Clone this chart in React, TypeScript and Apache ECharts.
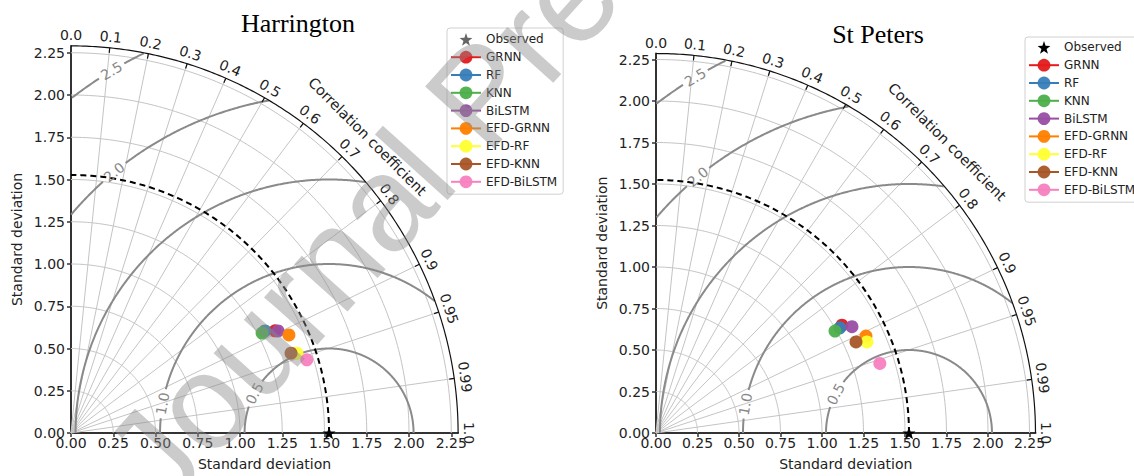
import { useEffect, useRef } from 'react';
import * as echarts from 'echarts';

// ---------------- data ----------------
const titles = ['Harrington', 'St Peters'];
const modelNames = ['GRNN', 'RF', 'KNN', 'BiLSTM', 'EFD-GRNN', 'EFD-RF', 'EFD-KNN', 'EFD-BiLSTM'];
const modelColors = ['#e41a1c', '#377eb8', '#4daf4a', '#984ea3', '#ff7f00', '#ffff33', '#a65628', '#f781bf'];

const harringtonStd = [1.350, 1.297, 1.276, 1.366, 1.414, 1.418, 1.385, 1.461];
const harringtonCorr = [0.894, 0.885, 0.886, 0.897, 0.912, 0.943, 0.940, 0.955];
const stPetersStd = [1.295, 1.276, 1.241, 1.343, 1.393, 1.384, 1.324, 1.412];
const stPetersCorr = [0.865, 0.868, 0.869, 0.879, 0.908, 0.918, 0.910, 0.955];
const observedStd = [1.527, 1.524];

const stdTicks = [0, 0.25, 0.5, 0.75, 1.0, 1.25, 1.5, 1.75, 2.0, 2.25];
const corrTicks = [0, 0.1, 0.2, 0.3, 0.4, 0.5, 0.6, 0.7, 0.8, 0.9, 0.95, 0.99, 1.0];
const corrTickLabels = ['0.0', '0.1', '0.2', '0.3', '0.4', '0.5', '0.6', '0.7', '0.8', '0.9', '0.95', '0.99', '1.0'];
const rmsLevels = [0.5, 1.0, 1.5, 2.0, 2.5];
const rmsLabels = ['0.5', '1.0', '1.5', '2.0', '2.5'];
const watermarkText = 'Journal Pre-proof';

// ---------------- layout ----------------
const layouts = [
  { originX: 71, originY: 433, scale: 169, legendLeft: 447, legendTop: 28, legendPad: [5, 6, 6, 3], titleCenter: 298, titleTop: 10, starLegend: '#666666' },
  { originX: 656, originY: 433, scale: 166, legendLeft: 1025, legendTop: 37, legendPad: [4, 6, 6, 3], titleCenter: 878, titleTop: 21, starLegend: '#000000' },
];
const rmsLabelAngle = [152, 170, null, 129.5, 121];
const FONT = 'DejaVu Sans';
const STAR = 'path://M0,-10 L2.35,-3.24 L9.51,-3.09 L3.8,1.24 L5.88,8.09 L0,4 L-5.88,8.09 L-3.8,1.24 L-9.51,-3.09 L-2.35,-3.24 Z';

const toXY = (r: number, c: number) => {
  const t = Math.acos(c);
  return [r * Math.cos(t), r * Math.sin(t)];
};

function arcPts(r: number, t0: number, t1: number, n = 120) {
  const pts: number[][] = [];
  for (let k = 0; k <= n; k++) {
    const t = t0 + ((t1 - t0) * k) / n;
    pts.push([r * Math.cos(t), r * Math.sin(t)]);
  }
  return pts;
}

function linesSeries(i: number, polylines: number[][][], style: any, z: number) {
  return {
    type: 'lines',
    coordinateSystem: 'cartesian2d',
    xAxisIndex: i,
    yAxisIndex: i,
    polyline: true,
    silent: true,
    clip: false,
    z,
    data: polylines.map((p) => ({ coords: p })),
    lineStyle: { opacity: 1, curveness: 0, ...style },
    effect: { show: false },
  };
}

function buildOption() {
  const grids: any[] = [];
  const xAxes: any[] = [];
  const yAxes: any[] = [];
  const series: any[] = [];
  const legends: any[] = [];
  const titleOpts: any[] = [];
  const stds = [harringtonStd, stPetersStd];
  const corrs = [harringtonCorr, stPetersCorr];

  layouts.forEach((L, i) => {
    const obs = observedStd[i];
    const rmax = 1.5 * obs;
    const size = rmax * L.scale;
    grids.push({ left: L.originX, top: L.originY - size, width: size, height: size, outerBoundsMode: 'none', containLabel: false });

    const axis = (isX: boolean) => ({
      type: 'value',
      gridIndex: i,
      min: 0,
      max: rmax,
      axisLine: { show: true, onZero: false, lineStyle: { color: '#333', width: 2 } },
      axisTick: { show: true, inside: false, length: 4, customValues: stdTicks, lineStyle: { color: '#333', width: 1.5 } },
      axisLabel: {
        show: true,
        customValues: stdTicks,
        formatter: (v: number) => v.toFixed(2),
        fontFamily: FONT,
        fontSize: 14,
        color: '#222',
        margin: isX ? 3 : 6,
      },
      splitLine: { show: false },
      name: 'Standard deviation',
      nameLocation: 'middle',
      nameGap: isX ? 24 : 47,
      nameTextStyle: { fontFamily: FONT, fontSize: 14, color: '#222' },
    });
    xAxes.push(axis(true));
    yAxes.push(axis(false));

    // std grid arcs
    const stdArcs = stdTicks.filter((r) => r > 0).map((r) => arcPts(r, 0, Math.PI / 2));
    series.push(linesSeries(i, stdArcs, { color: '#c4c4c4', width: 1 }, 1));

    // correlation radial lines
    const radial = corrTicks
      .filter((c) => c > 0 && c < 1)
      .map((c) => [[0, 0], toXY(rmax, c)]);
    series.push(linesSeries(i, radial, { color: '#c4c4c4', width: 1 }, 1));

    // RMS contours (clipped to the quarter disc, gaps at labels)
    const contourPieces: number[][][] = [];
    rmsLevels.forEach((R, k) => {
      const la = rmsLabelAngle[k];
      const gap = la == null ? 0 : (0.085 / R) * (180 / Math.PI);
      let cur: number[][] = [];
      for (let a = 0; a <= 180.0001; a += 0.25) {
        const phi = (a * Math.PI) / 180;
        const x = obs + R * Math.cos(phi);
        const y = R * Math.sin(phi);
        const ok = x >= 0 && x * x + y * y <= rmax * rmax && !(la != null && Math.abs(a - la) < gap);
        if (ok) cur.push([x, y]);
        else if (cur.length) {
          if (cur.length > 1) contourPieces.push(cur);
          cur = [];
        }
      }
      if (cur.length > 1) contourPieces.push(cur);
    });
    series.push(linesSeries(i, contourPieces, { color: '#8a8a8a', width: 2 }, 2));

    // outer arc + correlation ticks
    const tickLen = 5 / L.scale;
    const outer = [arcPts(rmax, 0, Math.PI / 2, 200)];
    corrTicks.forEach((c) => {
      if (c <= 0 || c >= 1) return;
      outer.push([toXY(rmax, c), toXY(rmax - tickLen, c)]);
    });
    series.push(linesSeries(i, outer, { color: '#111', width: 1.2 }, 3));

    // observed std dashed arc
    series.push(linesSeries(i, [arcPts(obs, 0, Math.PI / 2, 160)], { color: '#000', width: 2, type: [6, 4] }, 4));

    // text labels (correlation ticks, contour labels, axis title)
    const labels: any[] = [];
    corrTicks.forEach((c, k) => {
      const t = Math.acos(c);
      const r = rmax + 11 / L.scale;
      labels.push({ x: r * Math.cos(t), y: r * Math.sin(t), rot: (t * 180) / Math.PI - 90, text: corrTickLabels[k], color: '#222', size: 14 });
    });
    const ct = Math.PI / 4;
    const cr = 2.48;
    labels.push({ x: cr * Math.cos(ct), y: cr * Math.sin(ct), rot: -45, text: 'Correlation coefficient', color: '#222', size: 14.5 });
    rmsLevels.forEach((R, k) => {
      const la = rmsLabelAngle[k];
      if (la == null) return;
      const phi = (la * Math.PI) / 180;
      let rot = (Math.atan2(Math.cos(phi), -Math.sin(phi)) * 180) / Math.PI;
      if (rot > 90) rot -= 180;
      if (rot <= -90) rot += 180;
      labels.push({ x: obs + R * Math.cos(phi), y: R * Math.sin(phi), rot, text: rmsLabels[k], color: '#888', size: 14 });
    });
    series.push({
      type: 'custom',
      xAxisIndex: i,
      yAxisIndex: i,
      silent: true,
      clip: false,
      z: 5,
      data: labels.map((l) => [l.x, l.y]),
      renderItem: (params: any, api: any) => {
        const l = labels[params.dataIndex];
        const p = api.coord([api.value(0), api.value(1)]);
        return {
          type: 'text',
          x: p[0],
          y: p[1],
          rotation: (l.rot * Math.PI) / 180,
          style: { text: l.text, fill: l.color, fontSize: l.size, fontFamily: FONT, align: 'center', verticalAlign: 'middle' },
        };
      },
    });

    // models
    modelNames.forEach((name, k) => {
      series.push({
        type: 'line',
        name,
        xAxisIndex: i,
        yAxisIndex: i,
        data: [toXY(stds[i][k], corrs[i][k])],
        symbol: 'circle',
        symbolSize: 13,
        showSymbol: true,
        itemStyle: { color: modelColors[k], borderWidth: 0, opacity: 0.95 },
        lineStyle: { color: modelColors[k], width: 2 },
        z: 10,
        clip: false,
        silent: true,
      });
    });

    // observed
    series.push({
      type: 'line',
      name: 'Observed',
      xAxisIndex: i,
      yAxisIndex: i,
      data: [[obs, 0]],
      symbol: STAR,
      symbolSize: 13,
      symbolKeepAspect: true,
      itemStyle: { color: '#000', borderWidth: 0 },
      lineStyle: { width: 0, opacity: 0 },
      z: 12,
      clip: false,
      silent: true,
    });

    legends.push({
      orient: 'vertical',
      left: L.legendLeft,
      top: L.legendTop,
      itemWidth: 30,
      itemHeight: 16,
      itemGap: 5,
      padding: L.legendPad,
      borderColor: '#d0d0d0',
      borderWidth: 1,
      borderRadius: 3,
      backgroundColor: 'rgba(255,255,255,0.85)',
      selectedMode: false,
      textStyle: { fontFamily: FONT, fontSize: 12, color: '#222' },
      data: [{ name: 'Observed', itemStyle: { color: L.starLegend } }, ...modelNames],
    });

    const tFont = 26;
    const tw = titles[i] === 'Harrington' ? 4.388 * tFont : 3.528 * tFont;
    titleOpts.push({
      text: titles[i],
      left: L.titleCenter - tw / 2,
      top: L.titleTop,
      padding: 0,
      textStyle: { fontFamily: 'Liberation Serif', fontSize: tFont, fontWeight: 'normal', color: '#000' },
    });
  });

  // watermark overlay
  const wmSize = 135;
  const wmAngle = (48 * Math.PI) / 180;
  const baseX = 166;
  const baseY = 514;
  const up = 0.35 * wmSize;
  const graphic = [
    {
      type: 'text',
      x: baseX - up * Math.sin(wmAngle),
      y: baseY - up * Math.cos(wmAngle),
      rotation: wmAngle,
      silent: true,
      z: 100,
      style: {
        text: watermarkText,
        fontFamily: 'Liberation Sans',
        fontSize: wmSize,
        fill: 'rgba(140,140,140,0.45)',
        align: 'left',
        verticalAlign: 'middle',
      },
    },
  ];

  return {
    animation: false,
    backgroundColor: '#fff',
    title: titleOpts,
    legend: legends,
    grid: grids,
    xAxis: xAxes,
    yAxis: yAxes,
    series,
    graphic,
  };
}

export default function App() {
  const ref = useRef<HTMLDivElement>(null);
  useEffect(() => {
    const chart = echarts.init(ref.current!, null, { renderer: 'svg' });
    chart.setOption(buildOption() as any);
    return () => chart.dispose();
  }, []);
  return <div ref={ref} style={{ position: 'fixed', left: 0, top: 0, width: 1134, height: 476, background: '#fff' }} />;
}
